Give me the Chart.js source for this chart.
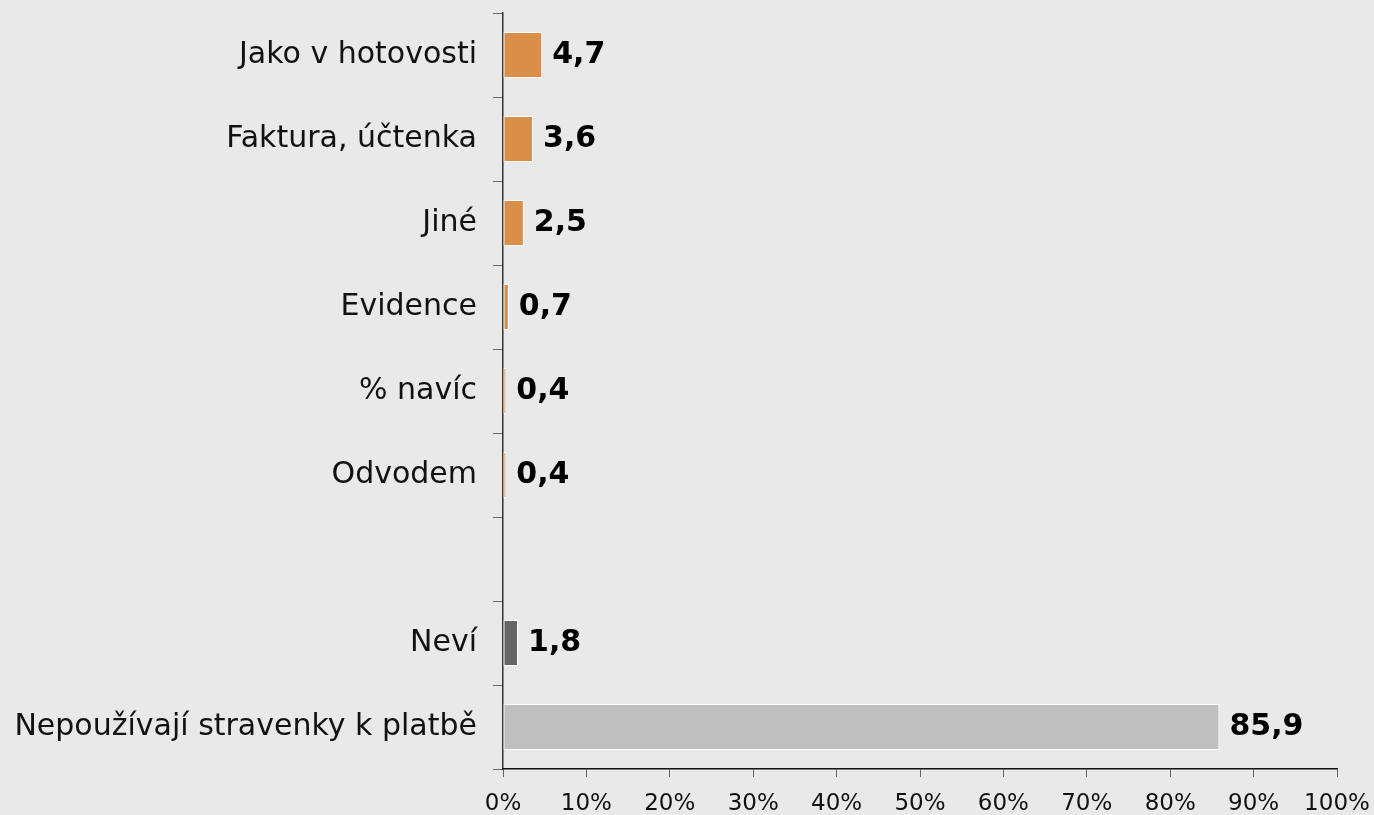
<!DOCTYPE html>
<html>
<head>
<meta charset="utf-8">
<script src="https://cdn.jsdelivr.net/npm/chart.js@4/dist/chart.umd.min.js"></script>
<style>
  html, body { margin: 0; padding: 0; background: #e9e9e9; }
  #wrap { width: 1374px; height: 815px; }
</style>
</head>
<body>
<div id="wrap"><canvas id="chart"></canvas></div>
<script>
const categories = ['Jako v hotovosti', 'Faktura, účtenka', 'Jiné', 'Evidence', '% navíc', 'Odvodem', '', 'Neví', 'Nepoužívají stravenky k platbě'];
const values = [4.7, 3.6, 2.5, 0.7, 0.4, 0.4, null, 1.8, 85.9];
const barColors = ['#d98f4a', '#d98f4a', '#d98f4a', '#d98f4a', '#d98f4a', '#d98f4a', '#d98f4a', '#666666', '#bfbfbf'];
const xTicks = [0, 10, 20, 30, 40, 50, 60, 70, 80, 90, 100];

const FONT = '"DejaVu Sans", Verdana, sans-serif';
Chart.defaults.font.family = FONT;
Chart.defaults.color = '#000';

// Etiquetas con el valor al final de cada barra
const valueLabels = {
    id: 'valueLabels',
    afterDatasetsDraw(chart) {
        const ctx = chart.ctx;
        const meta = chart.getDatasetMeta(0);
        ctx.save();
        ctx.font = 'bold 30px ' + FONT;
        ctx.fillStyle = '#000';
        ctx.textAlign = 'left';
        ctx.textBaseline = 'middle';
        meta.data.forEach((bar, i) => {
            if (values[i] === null) return;
            ctx.fillText(values[i].toFixed(1).replace('.', ','), bar.x + 10, bar.y);
        });
        ctx.restore();
    }
};

new Chart(document.getElementById('chart'), {
    type: 'bar',
    data: {
        labels: categories,
        datasets: [{
            data: values,
            backgroundColor: barColors,
            borderColor: '#ffffff',
            borderWidth: 1,
            borderSkipped: false,
            categoryPercentage: 1,
            barPercentage: 0.55
        }]
    },
    options: {
        indexAxis: 'y',
        responsive: true,
        maintainAspectRatio: false,
        animation: false,
        layout: { padding: { top: 13, right: 37, left: 0, bottom: 0 } },
        plugins: {
            legend: { display: false },
            tooltip: { enabled: false }
        },
        scales: {
            y: {
                grid: {
                    offset: true,
                    drawOnChartArea: false,
                    tickLength: 10,
                    tickColor: '#666'
                },
                border: { color: '#333', width: 1.5 },
                ticks: {
                    font: { size: 30 },
                    color: '#111',
                    padding: 16
                },
                afterFit(scale) {
                    scale.width = 503;
                    scale.paddingTop = 0;
                    scale.paddingBottom = 0;
                }
            },
            x: {
                min: 0,
                max: 100,
                afterBuildTicks(scale) {
                    scale.ticks = xTicks.map(v => ({ value: v }));
                },
                grid: {
                    drawOnChartArea: false,
                    tickLength: 8,
                    tickColor: '#666'
                },
                border: { color: '#111', width: 1.5 },
                ticks: {
                    font: { size: 23 },
                    color: '#111',
                    padding: 13,
                    maxRotation: 0,
                    autoSkip: false,
                    callback: v => v + '%'
                },
                afterFit(scale) {
                    scale.height = 46;
                    scale.paddingLeft = 0;
                    scale.paddingRight = 0;
                }
            }
        }
    },
    plugins: [valueLabels]
});
</script>
</body>
</html>
